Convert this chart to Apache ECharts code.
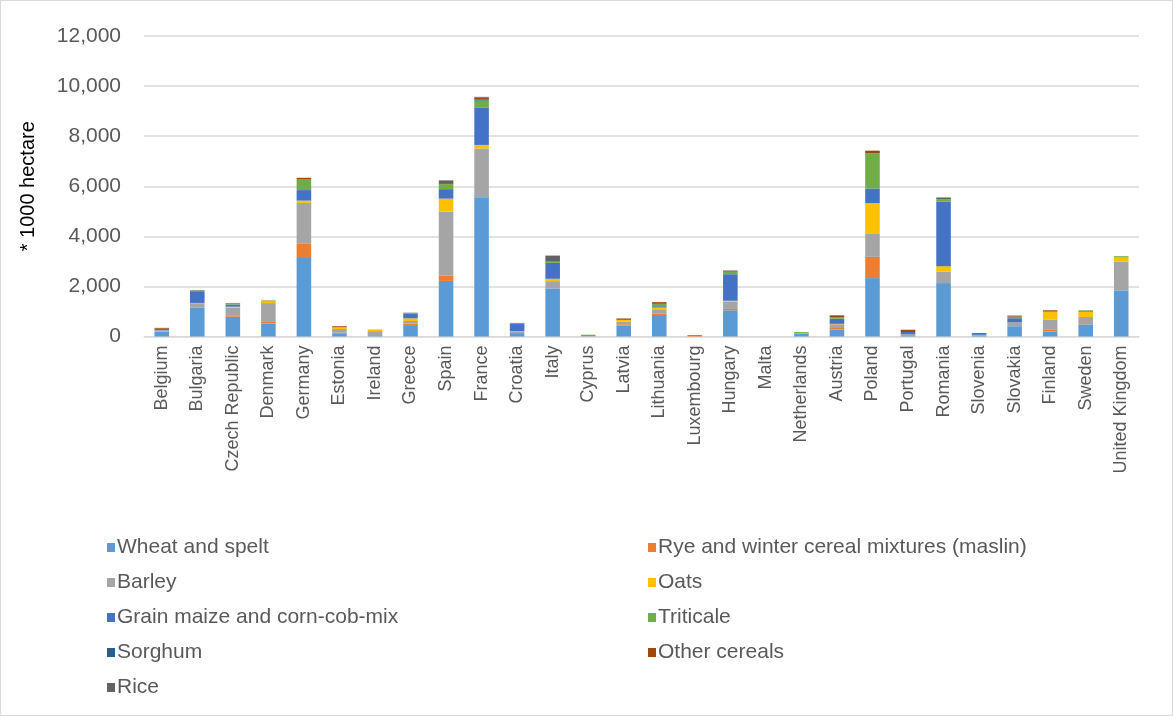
<!DOCTYPE html>
<html>
<head>
<meta charset="utf-8">
<script src="https://cdn.jsdelivr.net/npm/echarts@6/dist/echarts.min.js"></script>
<style>
  html, body { margin: 0; padding: 0; background: #fff; }
  #chart { width: 1173px; height: 716px; box-sizing: border-box; border: 1px solid #d9d9d9; }
</style>
</head>
<body>
<div id="chart"></div>
<script>
// Cereal area by member state, in thousand hectares
const countries = ['Belgium', 'Bulgaria', 'Czech Republic', 'Denmark', 'Germany', 'Estonia', 'Ireland', 'Greece', 'Spain', 'France', 'Croatia', 'Italy', 'Cyprus', 'Latvia', 'Lithuania', 'Luxembourg', 'Hungary', 'Malta', 'Netherlands', 'Austria', 'Poland', 'Portugal', 'Romania', 'Slovenia', 'Slovakia', 'Finland', 'Sweden', 'United Kingdom'];

const wheat     = [190, 1160, 790, 515, 3135, 130, 15, 455, 2220, 5540, 135, 1920, 5, 435, 857, 0, 1047, 0, 115, 272, 2332, 50, 2133, 30, 411, 199, 464, 1842];
const rye       = [2, 5, 60, 95, 566, 20, 0, 60, 205, 30, 3, 0, 0, 54, 68, 30, 54, 0, 0, 68, 848, 15, 0, 0, 0, 66, 0, 0];
const barley    = [45, 165, 300, 725, 1633, 150, 200, 105, 2570, 1940, 45, 291, 15, 109, 163, 0, 299, 0, 15, 150, 941, 20, 464, 20, 159, 411, 318, 1140];
const oats      = [5, 10, 40, 60, 92, 60, 60, 105, 510, 140, 25, 93, 0, 68, 68, 0, 27, 0, 0, 15, 1206, 0, 212, 0, 0, 318, 199, 172];
const maize     = [60, 440, 90, 10, 421, 0, 0, 185, 380, 1480, 290, 636, 0, 0, 54, 0, 1060, 0, 5, 205, 583, 95, 2584, 45, 159, 0, 0, 0];
const triticale = [8, 15, 40, 25, 420, 10, 0, 10, 200, 290, 25, 40, 50, 0, 95, 0, 95, 0, 40, 68, 1405, 0, 93, 5, 66, 0, 66, 53];
const sorghum   = [0, 30, 0, 0, 0, 0, 0, 0, 0, 50, 0, 0, 0, 0, 0, 0, 0, 0, 0, 0, 0, 0, 0, 0, 0, 0, 0, 0];
const other     = [35, 10, 20, 10, 70, 40, 5, 10, 40, 80, 20, 26, 0, 54, 68, 25, 27, 0, 0, 68, 106, 90, 0, 35, 40, 53, 0, 0];
const rice      = [0, 15, 0, 0, 0, 0, 0, 20, 110, 20, 0, 225, 0, 0, 0, 0, 27, 0, 0, 0, 0, 0, 66, 0, 0, 0, 0, 0];

const seriesNames = ['Wheat and spelt', 'Rye and winter cereal mixtures (maslin)', 'Barley', 'Oats', 'Grain maize and corn-cob-mix', 'Triticale', 'Sorghum', 'Other cereals', 'Rice'];
const seriesData = [wheat, rye, barley, oats, maize, triticale, sorghum, other, rice];
const seriesColors = ['#5B9BD5', '#ED7D31', '#A5A5A5', '#FFC000', '#4472C4', '#70AD47', '#255E91', '#9E480E', '#636363'];

const yTicks = { min: 0, max: 12000, interval: 2000 };

const FONT = 'Liberation Sans';
const TEXT = '#595959';

const chart = echarts.init(document.getElementById('chart'));

const legendStyle = {
  orient: 'vertical',
  icon: 'rect',
  itemWidth: 8,
  itemHeight: 9,
  itemGap: 14,
  top: 531,
  textStyle: { fontFamily: FONT, fontSize: 21, color: TEXT, padding: [0, 0, 0, -3] }
};

chart.setOption({
  animation: false,
  color: seriesColors,
  grid: { left: 143, right: 33, top: 35, bottom: 378.5, containLabel: false },
  legend: [
    Object.assign({ left: 101, data: [seriesNames[0], seriesNames[2], seriesNames[4], seriesNames[6], seriesNames[8]] }, legendStyle),
    Object.assign({ left: 642, data: [seriesNames[1], seriesNames[3], seriesNames[5], seriesNames[7]] }, legendStyle)
  ],
  xAxis: {
    type: 'category',
    data: countries,
    axisTick: { show: false },
    axisLine: { lineStyle: { color: '#d9d9d9', width: 1 } },
    axisLabel: { rotate: 90, interval: 0, margin: 9, fontFamily: FONT, fontSize: 18, color: TEXT }
  },
  yAxis: {
    type: 'value',
    min: yTicks.min,
    max: yTicks.max,
    interval: yTicks.interval,
    name: '* 1000 hectare',
    nameLocation: 'middle',
    nameRotate: 90,
    nameGap: 106,
    nameTextStyle: { fontFamily: FONT, fontSize: 20, color: '#000' },
    axisLine: { show: false },
    axisTick: { show: false },
    splitLine: { lineStyle: { color: '#d9d9d9', width: 1.5 } },
    axisLabel: {
      margin: 23,
      fontFamily: FONT,
      fontSize: 21,
      color: TEXT,
      formatter: v => v.toLocaleString('en-US')
    }
  },
  series: seriesNames.map((name, i) => ({
    name,
    type: 'bar',
    stack: 'cereals',
    barWidth: '41%',
    data: seriesData[i],
    itemStyle: { color: seriesColors[i] }
  }))
});
</script>
</body>
</html>
